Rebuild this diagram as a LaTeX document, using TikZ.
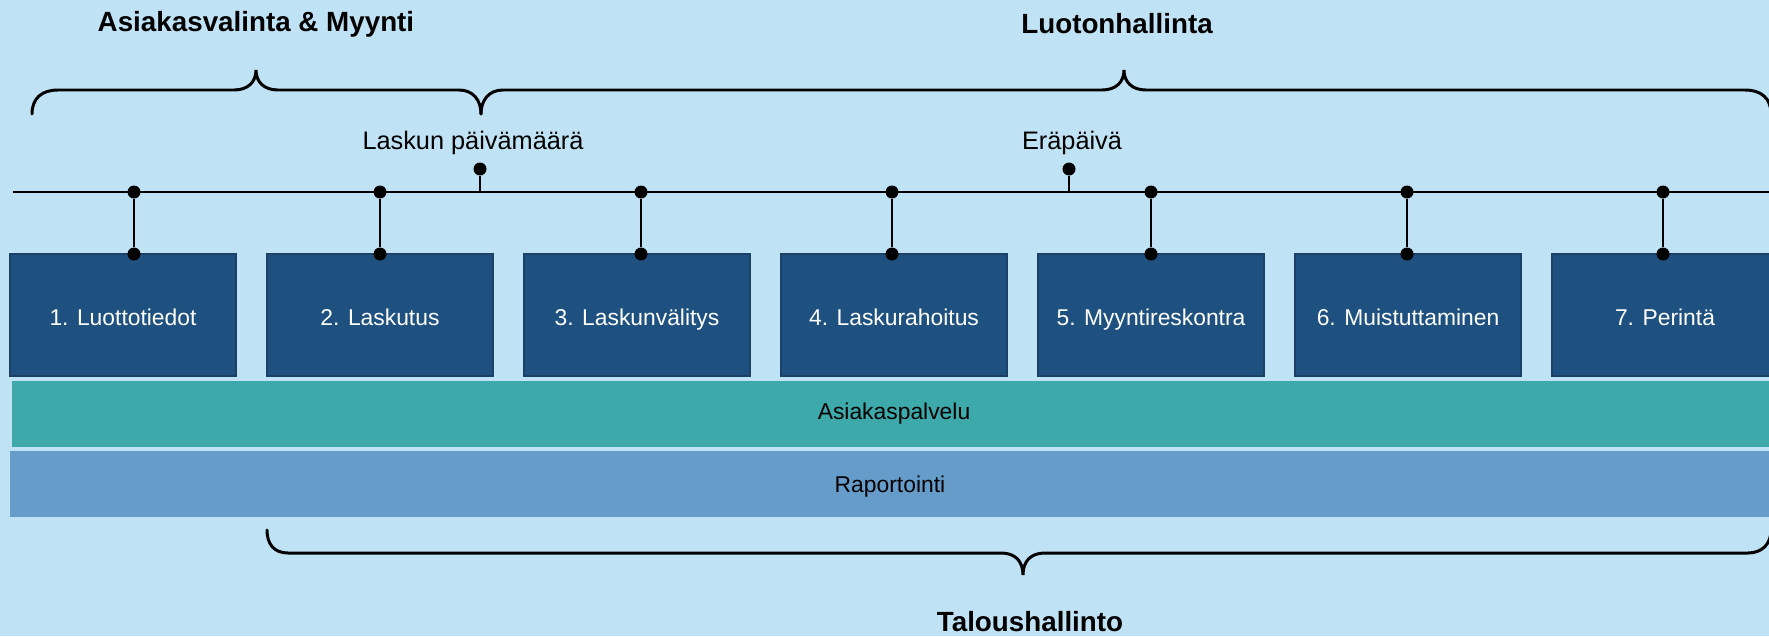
\documentclass[tikz,border=0pt]{standalone}
\usepackage{fontspec}
\setmainfont{Liberation Sans}
\usetikzlibrary{positioning}

\definecolor{bgblue}{HTML}{BFE2F4}
\definecolor{boxblue}{HTML}{1F5180}
\definecolor{boxedge}{HTML}{1C4066}
\definecolor{bandteal}{HTML}{3DA9AB}
\definecolor{bandblue}{HTML}{659CCA}

\begin{document}
\begin{tikzpicture}
	[x=0.01cm, y=-0.01cm,%
	phase/.style ={rectangle,	draw=boxedge,	fill=boxblue,	line width=0.8pt,	text=white,	inner sep=0pt,	minimum width=2.26cm,	minimum height=1.22cm,	text height=1.5ex,	text depth=0.35ex,	font=\fontsize{6.5}{8}\selectfont},%
	band/.style  ={rectangle,	inner sep=0pt,	minimum width=17.8cm,	minimum height=0.66cm,	font=\fontsize{6.5}{8}\selectfont},%
	title/.style ={inner sep=0pt,	font=\fontsize{7.9}{9.5}\selectfont\bfseries},%
	datetext/.style={inner sep=0pt,	font=\fontsize{7.2}{8.6}\selectfont},%
	dot/.style   ={circle,	fill=black,	inner sep=0pt,	minimum size=0.13cm},%
	stem/.style  ={line width=0.35pt},%
	brace/.style ={line width=0.85pt,	line cap=round},%
	]

	\newcommand\ytime{192}
	\newcommand\ytop{254}

	% background
	\fill [bgblue] (0,0) rectangle (1769,636);
	\useasboundingbox (0,0) rectangle (1769,636);
	\clip (0,0) rectangle (1769,636);

	% nodes
	\foreach \i/\x/\t in {1/123/Luottotiedot, 2/380/Laskutus, 3/637/Laskunvälitys, 4/894/Laskurahoitus, %
												5/1151/Myyntireskontra, 6/1408/Muistuttaminen, 7/1665/Perintä}
			\node (box\i) at (\x,315) [phase] {\i. \t};

	\node (asiakas)	at (11,414) [band, anchor=west, fill=bandteal] {};
	\node 					at (894,414) [band, minimum width=0pt] {Asiakaspalvelu};
	\node (raport)		at (9,484) [band, anchor=west, fill=bandblue] {};
	\node 					at (890,487) [band, minimum width=0pt] {Raportointi};

	\node (myynti)		at (256,24) [title] {Asiakasvalinta \& Myynti};
	\node (luotto)		at (1117,24) [title] {Luotonhallinta};
	\node (talous)		at (1030,622) [title] {Taloushallinto};

	\node (lpvm)			at (473,143) [datetext] {Laskun päivämäärä};
	\node (erap)			at (1072,143) [datetext] {Eräpäivä};

	% timeline
	\coordinate (time0) at (13,\ytime);
	\coordinate (time1) at (1775,\ytime);
	\draw [line width=0.75pt] (time0) -- (time1);

	\foreach \i/\x in {1/134, 2/380, 3/641, 4/892, 5/1151, 6/1407, 7/1663}
	{
		\node (tick\i) at (\x,\ytime) [dot] {};
		\node (top\i) at (\x,\ytop) [dot] {};
		\draw [stem] (tick\i) -- (top\i);
	}

	% dates
	\foreach \n/\x in {lpvm/480, erap/1069}
	{
		\node (\n dot) at (\x,169) [dot] {};
		\coordinate (\n base) at (\x,\ytime);
		\draw [stem] (\n dot) -- (\n base);
	}

	% braces
	\draw [brace] (32,114) .. controls (32,98) and (42,90) .. (58,90) -- (234,90)
		.. controls (248,90) and (256,82) .. (256,70) .. controls (256,82) and (264,90) .. (278,90)
		-- (459,90) .. controls (473,90) and (481,100) .. (481,114);
	\draw [brace] (481,114) .. controls (481,100) and (489,90) .. (503,90) -- (1102,90)
		.. controls (1116,90) and (1124,82) .. (1124,70) .. controls (1124,82) and (1132,90) .. (1146,90)
		-- (1745,90) .. controls (1761,90) and (1771,98) .. (1771,114);
	\draw [brace] (267,530) .. controls (267,544) and (274,553) .. (288,553) -- (1001,553)
		.. controls (1015,553) and (1023,561) .. (1023,575) .. controls (1023,561) and (1031,553) .. (1045,553)
		-- (1748,553) .. controls (1762,553) and (1771,544) .. (1771,530);

\end{tikzpicture}
\end{document}
